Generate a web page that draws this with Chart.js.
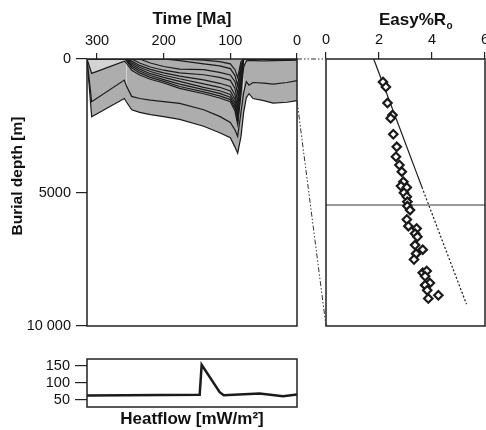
<!DOCTYPE html>
<html>
<head>
<meta charset="utf-8">
<script src="https://cdn.jsdelivr.net/npm/chart.js@4.4.1/dist/chart.umd.min.js"></script>
<style>
  html, body { margin: 0; padding: 0; background: #fff; overflow: hidden; width: 486px; height: 430px; }
  canvas { position: absolute; }
  #burial { left: 0; top: 0; }
  #easy { left: 297px; top: 0; }
  #heat { left: 0; top: 340px; }
</style>
</head>
<body>
<canvas id="burial" width="310" height="340"></canvas>
<canvas id="easy" width="213" height="340"></canvas>
<canvas id="heat" width="310" height="90"></canvas>
<script>
// burial history: depth [m] of each horizon at these times [Ma]
const times = [315, 308, 259, 256, 248, 236, 220, 200, 176, 140, 116, 100, 93, 89, 84, 80, 76, 72, 66, 50, 36, 15, 0];

const h11 = [0, 0, 0, 0, 0, 0, 0, 0, 0, 40, 100, 180, 400, 700, 100, 0, 0, 0, 0, 0, 0, 0, 0];
const h10 = [0, 0, 0, 0, 0, 0, 0, 0, 60, 180, 260, 360, 620, 1000, 200, 0, 0, 0, 0, 0, 0, 0, 0];
const h9 = [0, 0, 0, 0, 0, 0, 150, 280, 380, 400, 500, 600, 850, 1300, 320, 0, 0, 0, 0, 0, 0, 0, 0];
const h8 = [0, 0, 0, 0, 0, 150, 300, 420, 520, 590, 690, 800, 1100, 1600, 450, 0, 0, 0, 0, 0, 0, 0, 0];
const h7 = [0, 0, 0, 0, 80, 240, 390, 520, 640, 780, 910, 1030, 1350, 1850, 600, 0, 0, 0, 0, 0, 0, 0, 0];
const h6 = [0, 0, 0, 0, 140, 310, 470, 610, 740, 930, 1060, 1200, 1520, 2000, 750, 0, 0, 0, 0, 0, 0, 0, 0];
const h5 = [0, 0, 0, 0, 200, 380, 550, 690, 840, 1060, 1190, 1330, 1650, 2150, 900, 0, 0, 0, 0, 0, 0, 0, 0];
const h4 = [0, 0, 0, 30, 260, 450, 620, 770, 940, 1150, 1290, 1430, 1760, 2250, 1000, 0, 0, 0, 0, 0, 0, 0, 0];
const h3 = [0, 0, 0, 60, 330, 520, 690, 840, 1030, 1230, 1380, 1520, 1850, 2350, 1100, 0, 0, 0, 0, 0, 0, 0, 0];
const h2 = [0, 540, 80, 150, 420, 600, 760, 900, 1100, 1300, 1460, 1600, 1950, 2450, 1300, 300, 70, 60, 60, 70, 60, 50, 40];
const h1 = [0, 1600, 790, 1000, 1400, 1480, 1540, 1600, 1660, 1900, 2150, 2380, 2660, 2900, 2000, 1250, 850, 980, 880, 900, 940, 880, 810];
const baseDepth = [0, 2160, 1480, 1600, 1900, 2000, 2080, 2160, 2260, 2520, 2760, 2950, 3300, 3530, 2900, 2000, 1450, 1300, 1480, 1560, 1650, 1620, 1560];

const timeTicks = [300, 200, 100, 0];
const depthTicks = [0, 5000, 10000];
const depthLabels = ['0', '5000', '10 000'];

// vitrinite reflectance samples
const roValues = [2.15, 2.26, 2.32, 2.51, 2.44, 2.54, 2.67, 2.64, 2.77, 2.86, 2.92, 2.83, 3.05, 2.94, 3.05, 3.07, 3.07, 3.17,
  3.05, 3.11, 3.42, 3.36, 3.45, 3.36, 3.65, 3.40, 3.32, 3.65, 3.80, 3.74, 3.92, 3.74, 3.82, 4.24, 3.86];
const roDepths = [860, 1050, 1650, 2100, 2220, 2820, 3290, 3660, 3970, 4220, 4600, 4760, 4810, 5010, 5160, 5350, 5510, 5660,
  6010, 6260, 6350, 6540, 6660, 6970, 7140, 7290, 7510, 8010, 7940, 8140, 8390, 8470, 8660, 8850, 8970];
const trendRo = [1.80, 3.62, 5.30];
const trendDepth = [0, 4800, 9180];
const markerDepth = 5470;
const roTicks = [0, 2, 4, 6];

// heat flow history
const hfTimes = [315, 146, 143, 116, 110, 56, 21, 0];
const heatflow = [62, 64, 153, 72, 63, 68, 60, 65];
const hfTicks = [50, 100, 150];

const light = '#d3d3d3';
const grey = '#adadad';
const ink = '#1a1a1a';
const fontFamily = '"Liberation Sans", Arial, sans-serif';

Chart.defaults.font.family = fontFamily;
Chart.defaults.color = '#111';
Chart.defaults.animation = false;

// box around the plot area
const frame = {
  id: 'frame',
  afterDatasetsDraw(chart) {
    const { ctx, chartArea: a } = chart;
    ctx.save();
    ctx.strokeStyle = '#222';
    ctx.lineWidth = 1.5;
    ctx.strokeRect(a.left, a.top, a.right - a.left, a.bottom - a.top);
    ctx.restore();
  }
};

const depthTitle = {
  id: 'depthTitle',
  afterDraw(chart) {
    const ctx = chart.ctx;
    ctx.save();
    ctx.translate(18, 176);
    ctx.rotate(-Math.PI / 2);
    ctx.font = 'bold 15.5px ' + fontFamily;
    ctx.fillStyle = '#111';
    ctx.textAlign = 'center';
    ctx.textBaseline = 'middle';
    ctx.fillText('Burial depth [m]', 0, 0);
    ctx.restore();
  }
};

const roTitle = {
  id: 'roTitle',
  afterDraw(chart) {
    const ctx = chart.ctx;
    ctx.save();
    ctx.fillStyle = '#111';
    ctx.textBaseline = 'middle';
    ctx.textAlign = 'left';
    ctx.font = 'bold 17px ' + fontFamily;
    ctx.fillText('Easy%R', 82, 20);
    const w = ctx.measureText('Easy%R').width;
    ctx.font = 'bold 10px ' + fontFamily;
    ctx.fillText('o', 82 + w + 0.5, 26);
    ctx.restore();
  }
};

// dash-dot lines tying the present-day column to the Ro panel
const connector = {
  id: 'connector',
  afterDatasetsDraw(chart) {
    const { ctx, chartArea: a, scales: { y } } = chart;
    ctx.save();
    ctx.strokeStyle = '#333';
    ctx.lineWidth = 1;
    ctx.setLineDash([5, 2, 1.5, 2, 1.5, 2]);
    ctx.beginPath();
    ctx.moveTo(0, y.getPixelForValue(0));
    ctx.lineTo(a.left, y.getPixelForValue(0));
    ctx.moveTo(0, y.getPixelForValue(baseDepth[baseDepth.length - 1]));
    ctx.lineTo(a.left, y.getPixelForValue(depthTicks[depthTicks.length - 1]));
    ctx.stroke();
    ctx.restore();
  }
};

function tickGrid(len) {
  return { drawOnChartArea: false, tickLength: len, color: '#222', lineWidth: 1.2 };
}

// burial history
const horizons = [h11, h10, h9, h8, h7, h6, h5, h4, h3, h2, h1, baseDepth];
const burialSets = [{
  data: times.map(t => ({ x: t, y: 0 })),
  borderColor: 'transparent',
  borderWidth: 0,
  pointRadius: 0,
  fill: false
}];
horizons.forEach(h => {
  const ds = {
    data: h.map((d, i) => ({ x: times[i], y: d })),
    borderColor: ink,
    borderWidth: 1.2,
    pointRadius: 0,
    fill: '-1',
    backgroundColor: grey
  };
  if (h === h2) {
    // the early layer and the young cover are lighter
    ds.segment = { backgroundColor: c => (c.p0.parsed.x > 258 || c.p1.parsed.x < 80) ? light : grey };
  }
  burialSets.push(ds);
});

new Chart(document.getElementById('burial'), {
  type: 'line',
  data: { datasets: burialSets },
  options: {
    responsive: false,
    layout: { padding: { right: 13, bottom: 14 } },
    plugins: { legend: { display: false }, tooltip: { enabled: false } },
    scales: {
      x: {
        type: 'linear', position: 'top', min: 0, max: 315, reverse: true,
        afterBuildTicks: s => { s.ticks = timeTicks.map(v => ({ value: v })); },
        afterFit: s => { s.height = 59; },
        grid: tickGrid(6),
        border: { display: false },
        ticks: { font: { size: 14.5 }, padding: 3, maxRotation: 0 },
        title: { display: true, text: 'Time [Ma]', font: { size: 17, weight: 'bold' }, padding: { top: 9, bottom: 0 } }
      },
      y: {
        type: 'linear', min: 0, max: 10000, reverse: true,
        afterBuildTicks: s => { s.ticks = depthTicks.map(v => ({ value: v })); },
        afterFit: s => { s.width = 87; },
        grid: tickGrid(11),
        border: { display: false },
        ticks: { font: { size: 14.5 }, padding: 5, callback: v => depthLabels[depthTicks.indexOf(v)] }
      }
    }
  },
  plugins: [frame, depthTitle]
});

// Easy%Ro against depth
new Chart(document.getElementById('easy'), {
  type: 'scatter',
  data: {
    datasets: [
      {
        data: roValues.map((r, i) => ({ x: r, y: roDepths[i] })),
        pointStyle: 'rectRot', pointRadius: 4.2,
        pointBackgroundColor: '#fff', pointBorderColor: ink, pointBorderWidth: 2.2
      },
      {
        data: trendRo.map((r, i) => ({ x: r, y: trendDepth[i] })),
        showLine: true, pointRadius: 0, borderColor: ink, borderWidth: 1.2,
        segment: { borderDash: c => c.p0DataIndex >= 1 ? [2, 2] : undefined }
      },
      {
        data: [{ x: roTicks[0], y: markerDepth }, { x: roTicks[roTicks.length - 1], y: markerDepth }],
        showLine: true, pointRadius: 0, borderColor: '#777', borderWidth: 1.5
      }
    ]
  },
  options: {
    responsive: false,
    layout: { padding: { left: 29, right: 25, bottom: 14 } },
    plugins: { legend: { display: false }, tooltip: { enabled: false } },
    scales: {
      x: {
        type: 'linear', position: 'top', min: 0, max: 6,
        afterBuildTicks: s => { s.ticks = roTicks.map(v => ({ value: v })); },
        afterFit: s => { s.height = 59; },
        grid: tickGrid(7),
        border: { display: false },
        ticks: { font: { size: 14.5 }, padding: 3, maxRotation: 0 }
      },
      y: { type: 'linear', min: 0, max: 10000, reverse: true, display: false }
    }
  },
  plugins: [frame, connector, roTitle]
});

// heat flow history
new Chart(document.getElementById('heat'), {
  type: 'line',
  data: {
    datasets: [{
      data: heatflow.map((q, i) => ({ x: hfTimes[i], y: q })),
      borderColor: ink, borderWidth: 2.5, pointRadius: 0, fill: false
    }]
  },
  options: {
    responsive: false,
    layout: { padding: { top: 19, right: 13 } },
    plugins: { legend: { display: false }, tooltip: { enabled: false } },
    scales: {
      x: {
        type: 'linear', min: 0, max: 315, reverse: true,
        afterFit: s => { s.height = 23; },
        grid: { display: false },
        border: { display: false },
        ticks: { display: false },
        title: { display: true, text: 'Heatflow [mW/m²]', font: { size: 17, weight: 'bold' }, padding: { top: 0, bottom: 0 } }
      },
      y: {
        type: 'linear', min: 28, max: 170,
        afterBuildTicks: s => { s.ticks = hfTicks.map(v => ({ value: v })); },
        afterFit: s => { s.width = 87; },
        grid: tickGrid(12),
        border: { display: false },
        ticks: { font: { size: 14.5 }, padding: 5 }
      }
    }
  },
  plugins: [frame]
});
</script>
</body>
</html>
